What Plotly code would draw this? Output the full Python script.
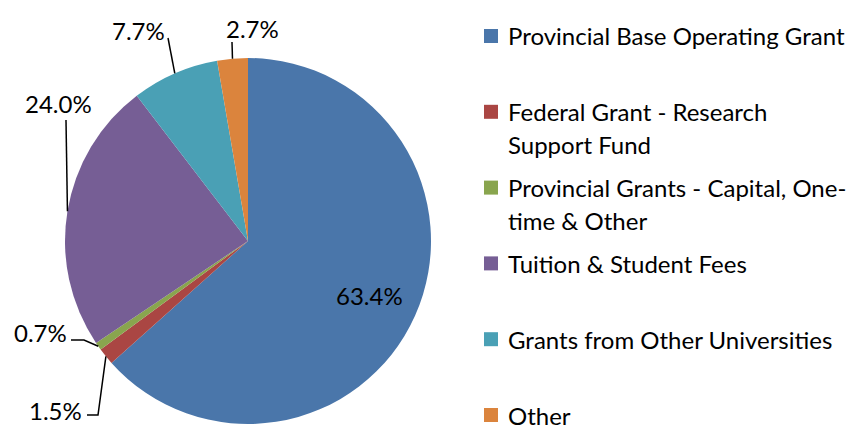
import math
import plotly.graph_objects as go

# ---- data ----
categories = [
    "Provincial Base Operating Grant",
    "Federal Grant - Research Support Fund",
    "Provincial Grants - Capital, One-time & Other",
    "Tuition & Student Fees",
    "Grants from Other Universities",
    "Other",
]
shares = [63.4, 1.5, 0.7, 24.0, 7.7, 2.7]
legend_text = [
    "Provincial Base Operating Grant",
    "Federal Grant - Research<br>Support Fund",
    "Provincial Grants - Capital, One-<br>time & Other",
    "Tuition & Student Fees",
    "Grants from Other Universities",
    "Other",
]
colors = ["#4A76AA", "#AA4643", "#89A54E", "#765E95", "#4AA0B5", "#DB843D"]

# ---- layout constants (pixels) ----
W, H = 854, 430
CX, CY, R = 248, 241, 183
FONT = "Lato"
FS = 24


def px(x):
    return x / W


def py(y):
    return 1 - y / H


def edge(i, frac=1.0):
    total = sum(shares)
    start = sum(shares[:i]) / total * 360
    mid = start + shares[i] / total * 360 / 2
    a = math.radians(mid)
    return CX + R * frac * math.sin(a), CY - R * frac * math.cos(a)


fig = go.Figure()
fig.add_trace(go.Pie(
    labels=categories,
    values=shares,
    sort=False,
    direction="clockwise",
    rotation=0,
    marker=dict(colors=colors, line=dict(width=0)),
    textinfo="none",
    hoverinfo="label+percent",
    showlegend=False,
    domain=dict(x=[px(CX - R), px(CX + R)], y=[py(CY + R), py(CY - R)]),
))

annotations = []
shapes = []

# percent labels: (text center x, y, leader path points before the slice edge) ; None = inside
label_layout = [
    None,
    ((55, 410), [(87, 415), (98, 415)]),
    ((40, 332), [(71, 340), (84, 340)]),
    ((58, 104), [(66, 120)]),
    ((138, 30), [(168, 38)]),
    ((252, 28), [(232, 42)]),
]
for i, v in enumerate(shares):
    txt = f"{v:.1f}%"
    lay = label_layout[i]
    if lay is None:
        x, y = edge(i, 0.73)
        tx, ty = x, y
    else:
        (tx, ty), pts = lay
        ex, ey = edge(i)
        allp = pts + [(ex, ey)]
        path = "M " + " L ".join(f"{px(a):.5f},{py(b):.5f}" for a, b in allp)
        shapes.append(dict(type="path", xref="paper", yref="paper", path=path,
                           line=dict(color="black", width=1.5)))
    annotations.append(dict(x=px(tx), y=py(ty), xref="paper", yref="paper", text=txt,
                            xanchor="center", yanchor="middle", showarrow=False,
                            font=dict(family=FONT, size=FS, color="black")))

# legend
ROW0, STEP, LINE = 36, 75.8, 33
for i, t in enumerate(legend_text):
    yc = ROW0 + i * STEP
    shapes.append(dict(type="rect", xref="paper", yref="paper",
                       x0=px(484), x1=px(498), y0=py(yc - 7), y1=py(yc + 7),
                       fillcolor=colors[i], line=dict(width=0)))
    for j, line in enumerate(t.split("<br>")):
        annotations.append(dict(x=px(506), y=py(yc + j * LINE), xref="paper", yref="paper",
                                xanchor="left", yanchor="middle", text=line, showarrow=False,
                                font=dict(family=FONT, size=FS, color="black")))

fig.update_layout(
    width=W, height=H,
    margin=dict(l=0, r=0, t=0, b=0),
    paper_bgcolor="white",
    plot_bgcolor="white",
    annotations=annotations,
    shapes=shapes,
)
fig.write_html("out.html", config={"displayModeBar": False},
               post_script="document.body.style.margin='0';")
